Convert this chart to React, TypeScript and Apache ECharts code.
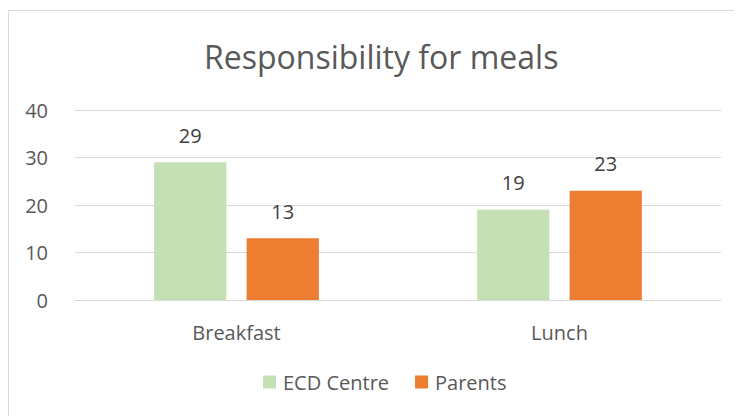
import React, { useEffect, useRef } from "react";
import * as echarts from "echarts";

const categories = ["Breakfast", "Lunch"];
const ecdCentre = [29, 19];
const parents = [13, 23];
const seriesNames = ["ECD Centre", "Parents"];
const titleText = "Responsibility for meals";

export default function App() {
  const ref = useRef<HTMLDivElement>(null);
  useEffect(() => {
    if (!ref.current) return;
    const chart = echarts.init(ref.current, null, { renderer: "svg" });
    const font = "Open Sans";
    chart.setOption({
      animation: false,
      textStyle: { fontFamily: font },
      graphic: [
        {
          type: "rect",
          shape: { x: 0.5, y: 2.5, width: 1000, height: 1000 },
          style: { fill: "none", stroke: "#d9d9d9", lineWidth: 1 },
          silent: true,
        },
      ],
      title: {
        text: titleText,
        left: 191,
        top: 27,
        textStyle: { fontFamily: font, fontSize: 32, fontWeight: "normal", color: "#595959" },
      },
      legend: {
        data: seriesNames,
        bottom: 19,
        left: 250,
        itemWidth: 13,
        itemHeight: 13,
        itemGap: 26,
        icon: "rect",
        textStyle: { fontFamily: font, fontSize: 20, color: "#595959", padding: [0, 0, 0, 2] },
      },
      grid: { left: 67, right: 21, top: 102, bottom: 116 },
      xAxis: {
        type: "category",
        data: categories,
        axisLine: { lineStyle: { color: "#d9d9d9" } },
        axisTick: { show: false },
        axisLabel: { fontFamily: font, fontSize: 20, color: "#595959", margin: 22 },
      },
      yAxis: {
        type: "value",
        min: 0,
        max: 40,
        interval: 10,
        axisLine: { show: false },
        axisTick: { show: false },
        axisLabel: { fontFamily: font, fontSize: 20, color: "#595959", margin: 27 },
        splitLine: { lineStyle: { color: "#d9d9d9" } },
      },
      series: [
        {
          name: seriesNames[0],
          type: "bar",
          data: ecdCentre,
          itemStyle: { color: "#c5e0b4" },
          barGap: "28%",
          barCategoryGap: "49%",
          label: { show: true, position: "top", distance: 17, fontFamily: font, fontSize: 20, color: "#404040" },
        },
        {
          name: seriesNames[1],
          type: "bar",
          data: parents,
          itemStyle: { color: "#ed7d31" },
          barGap: "28%",
          barCategoryGap: "49%",
          label: { show: true, position: "top", distance: 17, fontFamily: font, fontSize: 20, color: "#404040" },
        },
      ],
    });
    return () => chart.dispose();
  }, []);
  return <div ref={ref} style={{ width: 734, height: 408 }} />;
}
